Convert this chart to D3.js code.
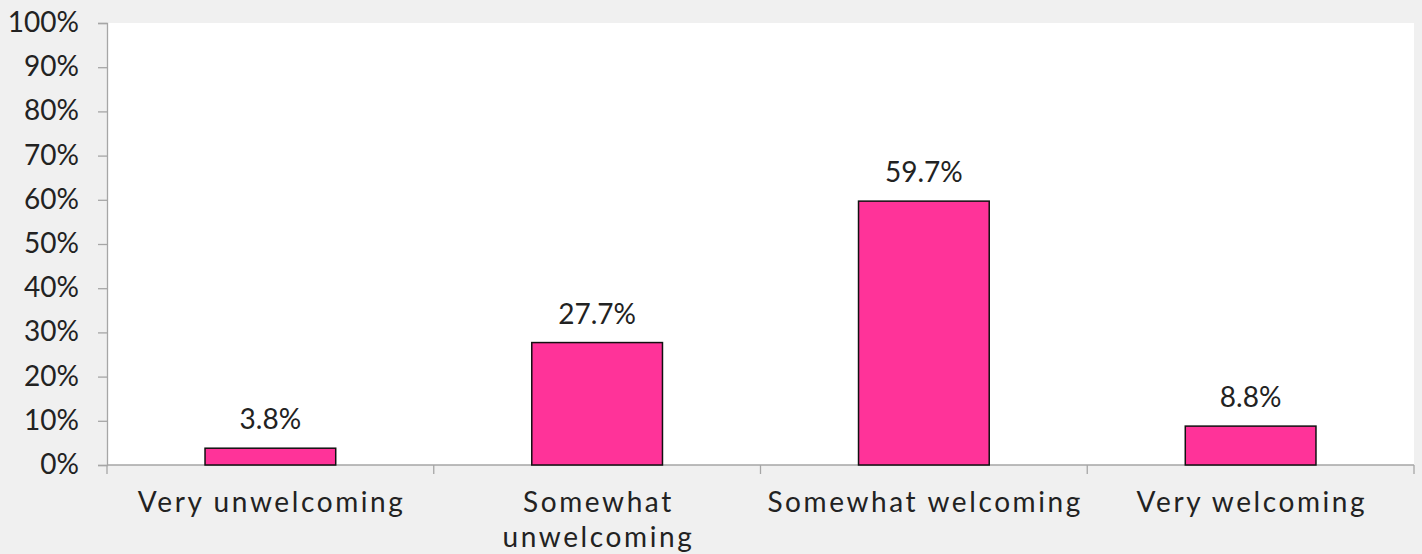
<!DOCTYPE html>
<html><head><meta charset="utf-8">
<script src="https://cdn.jsdelivr.net/npm/d3@7"></script>
<style>
html,body{margin:0;padding:0;background:#f0f0f0;}
svg{display:block;}
</style></head>
<body>
<svg id="chart" width="1422" height="554"></svg>
<script>
const categories = [["Very unwelcoming"], ["Somewhat", "unwelcoming"], ["Somewhat welcoming"], ["Very welcoming"]];
const values = [3.8, 27.7, 59.7, 8.8];
const yTicks = [0, 10, 20, 30, 40, 50, 60, 70, 80, 90, 100];

(function () {
const svg = d3.select("#chart");
const mLeft = 107, mRight = 1414, mTop = 23, mBottom = 465;
const font = "Lato, 'Open Sans', sans-serif";
const weight = 400;

svg.append("rect").attr("x", mLeft).attr("y", mTop).attr("width", mRight - mLeft).attr("height", mBottom - mTop).attr("fill", "#ffffff");

const x = d3.scaleBand().domain(d3.range(categories.length)).range([mLeft, mRight]).paddingInner(0).paddingOuter(0);
const y = d3.scaleLinear().domain([0, 100]).range([mBottom, mTop]);

// y axis
const yAxis = d3.axisLeft(y).tickValues(yTicks).tickFormat(d => d + "%").tickSize(9).tickPadding(19);
const gy = svg.append("g").attr("transform", `translate(${mLeft},0)`).call(yAxis);
gy.select(".domain").attr("stroke", "#a6a6a6").attr("stroke-width", 1.3);
gy.selectAll(".tick line").attr("stroke", "#a6a6a6").attr("stroke-width", 1.3);
gy.selectAll(".tick text").attr("fill", "#222").attr("dy", "0.3em")
  .style("font-family", font).style("font-size", "28px").style("font-weight", weight);

// x axis line and ticks at band boundaries
const boundaries = d3.range(categories.length + 1).map(i => i < categories.length ? x(i) : mRight);
svg.append("line").attr("x1", mLeft).attr("x2", mRight).attr("y1", mBottom).attr("y2", mBottom).attr("stroke", "#a6a6a6").attr("stroke-width", 1.3);
svg.selectAll(".xtick").data(boundaries).enter().append("line")
  .attr("x1", d => d).attr("x2", d => d).attr("y1", mBottom).attr("y2", mBottom + 9)
  .attr("stroke", "#a6a6a6").attr("stroke-width", 1.3);

// bars
const bw = x.bandwidth() * 0.4;
svg.selectAll(".bar").data(values).enter().append("rect")
  .attr("x", (d, i) => x(i) + x.bandwidth() / 2 - bw / 2)
  .attr("y", d => y(d))
  .attr("width", bw)
  .attr("height", d => mBottom - y(d))
  .attr("fill", "#ff3399").attr("stroke", "#111").attr("stroke-width", 1.5);

// data labels
svg.selectAll(".lbl").data(values).enter().append("text")
  .attr("x", (d, i) => x(i) + x.bandwidth() / 2)
  .attr("y", d => y(d) - 19)
  .attr("text-anchor", "middle")
  .attr("fill", "#222")
  .style("font-family", font).style("font-size", "28px").style("font-weight", weight)
  .text(d => d.toFixed(1) + "%");

// category labels
categories.forEach((lines, i) => {
  const cx = x(i) + x.bandwidth() / 2;
  lines.forEach((ln, j) => {
    svg.append("text")
      .attr("x", cx + 1.3)
      .attr("y", 512 + j * 35)
      .attr("text-anchor", "middle")
      .attr("fill", "#222")
      .style("font-family", font).style("font-size", "28px").style("font-weight", weight)
      .style("letter-spacing", "2.6px")
      .text(ln);
  });
});
})();
</script>
</body></html>
